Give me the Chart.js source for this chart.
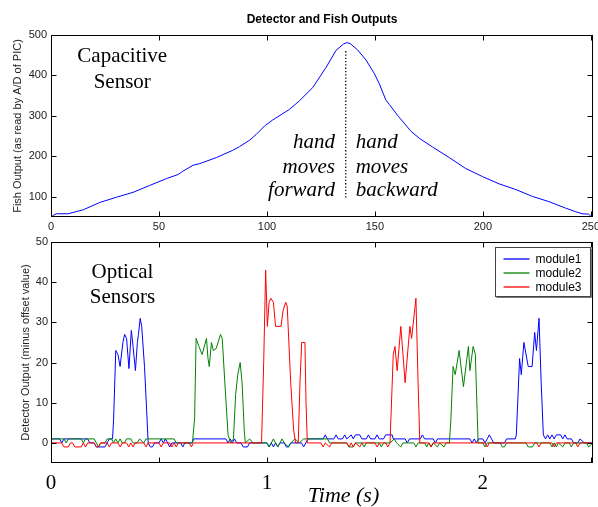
<!DOCTYPE html>
<html><head><meta charset="utf-8">
<script src="https://cdn.jsdelivr.net/npm/chart.js@4"></script>
<style>
html,body{margin:0;padding:0;background:#fff;}
#wrap{position:relative;width:598px;height:507px;overflow:hidden;background:#fff;}
canvas{position:absolute;left:0;top:0;}
</style></head><body>
<div id="wrap"><canvas id="topChart" width="598" height="507"></canvas><canvas id="botChart" width="598" height="507"></canvas></div>
<script>
// ---- Top panel: capacitive sensor (sample index vs A/D value) ----
const fishX = [0,1,2.6,8,15,22.6,30.4,38,45.7,53.5,58.8,61,65.8,68.9,76.6,84.2,87.3,92,95,98.9,102.7,110.4,115,121.2,127.4,132,135.5,137,138.5,142,145.9,149.7,152,155,156.7,161,166.7,170.5,176.7,184.4,192,199.8,207.5,215.2,222.9,230.6,238.3,243,246,249,250];
const fishY = [50,54,58,58,68,86,99,111,128,145,155,163,178,182,197,215,224,240,254,275,290,316,337,370,420,462,478,481,479,463,438,405,380,340,328,298,262,245,223,197,170,150,132,118,101,88,72,63,58,57,52];
const markerX = [136.5,136.5];
const markerY = [98,463];
const topXTicks = [0,50,100,150,200,250];
const topYTicks = [100,200,300,400,500];

// ---- Bottom panel: optical sensors (time in s vs output) ----
const m1Time = [0,0.04,0.05,0.06,0.17,0.18,0.20,0.21,0.25,0.26,0.27,0.285,0.29,0.30,0.31,0.32,0.333,0.341,0.35,0.361,0.372,0.38,0.391,0.40,0.405,0.413,0.42,0.433,0.443,0.45,0.46,0.47,0.48,0.50,0.51,0.52,0.53,0.54,0.55,0.56,0.60,0.61,0.62,0.655,0.66,0.81,0.82,0.83,0.84,0.85,0.86,0.88,0.89,0.91,0.92,1.0,1.01,1.02,1.03,1.04,1.05,1.06,1.08,1.09,1.10,1.11,1.16,1.17,1.18,1.19,1.26,1.27,1.28,1.31,1.32,1.33,1.35,1.36,1.37,1.39,1.40,1.41,1.43,1.44,1.46,1.47,1.48,1.50,1.51,1.52,1.54,1.55,1.58,1.585,1.64,1.65,1.66,1.71,1.72,1.73,1.77,1.78,1.79,1.85,1.94,1.95,1.96,1.97,1.98,2.00,2.01,2.02,2.03,2.04,2.05,2.10,2.11,2.15,2.155,2.17,2.178,2.19,2.21,2.228,2.24,2.248,2.26,2.27,2.28,2.29,2.30,2.31,2.32,2.33,2.34,2.36,2.37,2.38,2.39,2.41,2.42,2.44,2.45,2.47,2.51];
const m1Value = [1,1,0,1,1,0,0,-1,-1,0,1,1,6,23,22,19,25,27,26,18.5,28,24,18,25,27,31,29,19,8,0,-1,-1,0,0,1,0,1,0,-1,0,0,-1,0,0,1,1,0,1,0,1,0,0,-1,-1,0,0,-1,0,-1,0,-1,0,0,-1,-1,0,0,-1,0,1,1,2,1,1,2,1,1,2,1,2,1,2,2,1,1,2,1,1,2,1,1,2,2,1,1,0,1,1,2,1,1,0,1,1,1,0,1,0,1,1,0,1,2,1,0,0,1,1,2,21,17,25,19,19,27.5,23,31,15,2,1,2,1,2,1,2,2,1,2,1,1,0,0,1,0,0];

const m2Time = [0,0.06,0.07,0.08,0.14,0.15,0.16,0.20,0.21,0.22,0.23,0.25,0.26,0.28,0.29,0.30,0.31,0.32,0.33,0.34,0.35,0.37,0.38,0.40,0.41,0.43,0.44,0.57,0.58,0.655,0.665,0.672,0.685,0.70,0.72,0.727,0.733,0.743,0.752,0.765,0.785,0.793,0.805,0.82,0.832,0.845,0.855,0.865,0.876,0.885,0.895,0.90,0.92,0.935,1.00,1.01,1.02,1.03,1.04,1.05,1.06,1.07,1.08,1.10,1.11,1.13,1.15,1.17,1.28,1.29,1.37,1.38,1.40,1.41,1.44,1.45,1.46,1.52,1.53,1.54,1.57,1.59,1.60,1.62,1.63,1.68,1.69,1.70,1.73,1.74,1.75,1.76,1.77,1.79,1.80,1.82,1.83,1.845,1.852,1.862,1.872,1.89,1.91,1.933,1.94,1.955,1.965,1.978,2.00,2.01,2.02,2.08,2.09,2.10,2.11,2.20,2.21,2.23,2.24,2.31,2.32,2.33,2.34,2.35,2.37,2.38,2.40,2.41,2.42,2.48,2.49,2.51];
const m2Value = [1,1,0,1,1,0,1,1,0,-1,0,0,1,1,0,1,0,1,0,0,1,1,0,0,1,0,1,1,0,0,6,26,24,22,26,21,19,25,23,23.5,27,26,15,2,0,1,12,17,20,15,3,0,1,0,0,-1,0,1,0,-1,0,1,0,-1,0,1,0,1,1,0,0,-1,-1,0,0,-1,0,0,-1,0,0,1,0,-1,0,0,-1,0,0,-1,0,-1,0,-1,0,-1,0,0,6,19,17,23,14,24,18,24,22,0,0,-1,0,0,-1,-1,0,0,-1,-1,0,0,-1,0,-1,0,-1,0,0,-1,0,0,-1,0];

const m3Time = [0,0.05,0.06,0.08,0.09,0.10,0.11,0.14,0.15,0.16,0.17,0.20,0.21,0.22,0.23,0.26,0.27,0.28,0.31,0.32,0.33,0.35,0.36,0.37,0.38,0.39,0.43,0.44,0.45,0.50,0.51,0.52,0.55,0.56,0.57,0.58,0.59,0.64,0.65,0.66,0.975,0.985,0.994,1.002,1.01,1.018,1.03,1.04,1.065,1.075,1.087,1.094,1.11,1.124,1.133,1.145,1.153,1.161,1.176,1.181,1.187,1.25,1.26,1.27,1.29,1.30,1.37,1.38,1.39,1.40,1.41,1.43,1.44,1.50,1.51,1.52,1.55,1.56,1.57,1.572,1.585,1.593,1.603,1.62,1.64,1.662,1.67,1.69,1.70,1.708,1.75,1.76,1.77,2.01,2.02,2.03,2.25,2.26,2.27,2.32,2.33,2.34,2.43,2.44,2.45,2.51];
const m3Value = [0,0,-1,-1,0,0,-1,-1,0,-1,0,0,-1,-1,0,0,-1,0,0,-1,0,0,-1,0,-1,0,0,-1,0,0,-1,0,0,-1,0,-1,0,0,-1,0,0,20,43,29,35,36,35,29,29,33,35,34,15,3,0,0,15,25,25,10,0,0,-1,0,-1,0,0,-1,0,-1,0,-1,0,0,-1,0,0,-1,0,0,22,24,18,29,15,29,26,36,15,0,0,-1,0,0,-1,0,0,-1,0,0,-1,0,0,-1,0,0];

const seriesNames = ['module1','module2','module3'];
const botXTicks = [0,0.5,1,1.5,2,2.5];
const botXTickLabels = ['0','','1','','2',''];
const botYTicks = [0,10,20,30,40,50];

const SANS = '"Liberation Sans", Arial, sans-serif';
const SERIF = '"Liberation Serif", "Times New Roman", serif';
const BLUE = '#0000ff', GREEN = '#008000', RED = '#ff0000';
const pts = (xs, ys) => xs.map((x, i) => ({x: x, y: ys[i]}));

function framePlugin(texts, legendColors) {
  return {
    id: 'frame',
    afterDraw(chart) {
      const {ctx, chartArea: a, scales} = chart;
      const sx = scales.x, sy = scales.y;
      ctx.save();
      ctx.strokeStyle = '#000';
      ctx.lineWidth = 1;
      const L = Math.round(a.left) + 0.5, R = Math.round(a.right) - 0.5;
      const T = Math.round(a.top) + 0.5, B = Math.round(a.bottom) - 0.5;
      ctx.strokeRect(L, T, R - L, B - T);
      ctx.beginPath();
      sx.ticks.forEach(t => {
        const p = Math.round(sx.getPixelForValue(t.value)) + 0.5;
        ctx.moveTo(p, B); ctx.lineTo(p, B - 5);
        ctx.moveTo(p, T); ctx.lineTo(p, T + 5);
      });
      sy.ticks.forEach(t => {
        const p = Math.round(sy.getPixelForValue(t.value)) + 0.5;
        ctx.moveTo(L, p); ctx.lineTo(L + 5, p);
        ctx.moveTo(R, p); ctx.lineTo(R - 5, p);
      });
      ctx.stroke();
      ctx.fillStyle = '#000';
      ctx.textBaseline = 'alphabetic';
      texts.forEach(tx => {
        ctx.font = tx.font;
        ctx.textAlign = tx.align;
        ctx.fillText(tx.text, sx.getPixelForValue(tx.x), sy.getPixelForValue(tx.y));
      });
      if (legendColors) {
        const bw = 95, bh = 49;
        const bx = Math.round(a.right) - 98 + 0.5, by = Math.round(a.top) + 5 + 0.5;
        ctx.fillStyle = '#fff';
        ctx.fillRect(bx, by, bw, bh);
        ctx.strokeStyle = '#444';
        ctx.strokeRect(bx, by, bw, bh);
        ctx.beginPath();
        ctx.moveTo(bx + 1, by + bh + 1); ctx.lineTo(bx + bw + 1, by + bh + 1); ctx.lineTo(bx + bw + 1, by + 1);
        ctx.strokeStyle = '#777';
        ctx.stroke();
        ctx.font = '12px ' + SANS;
        ctx.textAlign = 'left';
        ctx.textBaseline = 'middle';
        seriesNames.forEach((name, i) => {
          const yy = Math.round(by + 11 + i * 14);
          ctx.strokeStyle = legendColors[i];
          ctx.lineWidth = 1.3;
          ctx.beginPath();
          ctx.moveTo(bx + 8, yy); ctx.lineTo(bx + 34, yy);
          ctx.stroke();
          ctx.fillStyle = '#000';
          ctx.fillText(name, bx + 40, yy + 0.5);
        });
      }
      ctx.restore();
    }
  };
}

function fixY(width) {
  return function (s) { s.width = width; s.paddingTop = 0; s.paddingBottom = 0; };
}
function fixX(height) {
  return function (s) { s.height = height; s.paddingLeft = 0; s.paddingRight = 0; };
}

const topTexts = [
  {text: 'Capacitive', x: 33, y: 433, align: 'center', font: '21px ' + SERIF},
  {text: 'Sensor', x: 33, y: 369, align: 'center', font: '21px ' + SERIF},
  {text: 'hand', x: 131.5, y: 220, align: 'right', font: 'italic 21px ' + SERIF},
  {text: 'moves', x: 131.5, y: 160, align: 'right', font: 'italic 21px ' + SERIF},
  {text: 'forward', x: 131.5, y: 101, align: 'right', font: 'italic 21px ' + SERIF},
  {text: 'hand', x: 141.1, y: 220, align: 'left', font: 'italic 21px ' + SERIF},
  {text: 'moves', x: 141.1, y: 160, align: 'left', font: 'italic 21px ' + SERIF},
  {text: 'backward', x: 141.1, y: 101, align: 'left', font: 'italic 21px ' + SERIF}
];
const botTexts = [
  {text: 'Optical', x: 0.331, y: 41, align: 'center', font: '21px ' + SERIF},
  {text: 'Sensors', x: 0.331, y: 34.8, align: 'center', font: '21px ' + SERIF},
  {text: 'Time (s)', x: 1.189, y: -14.8, align: 'left', font: 'italic 22px ' + SERIF}
];

new Chart(document.getElementById('topChart'), {
  type: 'line',
  data: {
    datasets: [
      {data: pts(fishX, fishY), borderColor: BLUE, borderWidth: 1, pointRadius: 0, tension: 0},
      {data: pts(markerX, markerY), borderColor: '#000', borderWidth: 1.3, borderDash: [1.3, 2], pointRadius: 0}
    ]
  },
  options: {
    responsive: false, animation: false, events: [],
    layout: {padding: {left: 0, right: 5, top: 0, bottom: 272}},
    plugins: {
      legend: {display: false}, tooltip: {enabled: false},
      title: {display: true, text: 'Detector and Fish Outputs', color: '#000', fullSize: false,
        font: {family: SANS, size: 12, weight: 'bold'}, padding: {top: 12, bottom: 8.6}}
    },
    scales: {
      x: {type: 'linear', min: 0, max: 251,
        afterBuildTicks: s => { s.ticks = topXTicks.map(v => ({value: v})); },
        afterFit: fixX(18),
        grid: {display: false, drawTicks: false}, border: {display: false},
        ticks: {color: '#222', font: {family: SANS, size: 11}, padding: 3, maxRotation: 0, autoSkip: false}},
      y: {type: 'linear', min: 50, max: 500,
        afterBuildTicks: s => { s.ticks = topYTicks.map(v => ({value: v})); },
        afterFit: fixY(51),
        grid: {display: false, drawTicks: false}, border: {display: false},
        ticks: {color: '#222', font: {family: SANS, size: 11}, padding: 4},
        title: {display: true, text: 'Fish Output (as read by A/D of PIC)', color: '#222',
          font: {family: SANS, size: 11}, padding: {top: 11, bottom: 0}}}
    }
  },
  plugins: [framePlugin(topTexts, null)]
});

new Chart(document.getElementById('botChart'), {
  type: 'line',
  data: {
    datasets: [
      {label: seriesNames[0], data: pts(m1Time, m1Value), borderColor: BLUE, borderWidth: 1, pointRadius: 0, tension: 0, order: 2},
      {label: seriesNames[1], data: pts(m2Time, m2Value), borderColor: GREEN, borderWidth: 1, pointRadius: 0, tension: 0, order: 1},
      {label: seriesNames[2], data: pts(m3Time, m3Value), borderColor: RED, borderWidth: 1, pointRadius: 0, tension: 0, order: 0}
    ]
  },
  options: {
    responsive: false, animation: false, events: [],
    layout: {padding: {left: 0, right: 5, top: 242, bottom: 0}},
    plugins: {legend: {display: false}, tooltip: {enabled: false}},
    scales: {
      x: {type: 'linear', min: 0, max: 2.51,
        afterBuildTicks: s => { s.ticks = botXTicks.map(v => ({value: v})); },
        afterFit: fixX(44),
        grid: {display: false, drawTicks: false}, border: {display: false},
        ticks: {color: '#000', font: {family: SERIF, size: 21}, padding: 8, maxRotation: 0, autoSkip: false,
          callback: (v, i) => botXTickLabels[i]}},
      y: {type: 'linear', min: -5, max: 50,
        afterBuildTicks: s => { s.ticks = botYTicks.map(v => ({value: v})); },
        afterFit: fixY(51),
        grid: {display: false, drawTicks: false}, border: {display: false},
        ticks: {color: '#222', font: {family: SANS, size: 11}, padding: 3},
        title: {display: true, text: 'Detector Output (minus offset value)', color: '#222',
          font: {family: SANS, size: 11}, padding: {top: 19, bottom: 0}}}
    }
  },
  plugins: [framePlugin(botTexts, [BLUE, GREEN, RED])]
});
</script>
</body></html>
